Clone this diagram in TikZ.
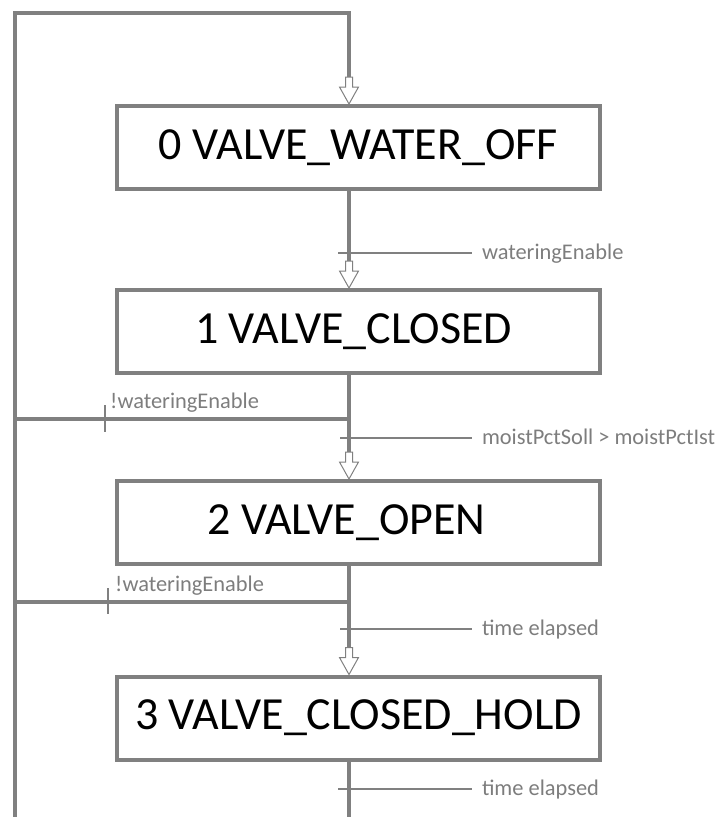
\documentclass[tikz,border=0pt]{standalone}
\usepackage{fontspec}
\setmainfont{Carlito}
\usetikzlibrary{calc}
\definecolor{linegray}{RGB}{128,128,128}
\definecolor{labelgray}{RGB}{125,125,125}
\tikzset{
  flow/.style={draw=linegray, line width=4pt},
  thinbar/.style={draw=linegray, line width=2pt},
  statebox/.style={draw=linegray, line width=4pt, fill=white, minimum width=483pt,
    minimum height=83pt, inner sep=0pt, font=\fontsize{46}{50}\selectfont, text=black},
  cond/.style={anchor=base west, inner sep=0pt, text=labelgray, font=\fontsize{22.4}{26}\selectfont},
  hollowarrow/.pic={
    \draw[linegray, line width=1pt, fill=white, line join=miter]
      (0,0) -- (9.5,-17) -- (3.5,-17) -- (3.5,-27) -- (-3.5,-27) -- (-3.5,-17) -- (-9.5,-17) -- cycle;
  }
}
\begin{document}
\begin{tikzpicture}[x=1pt, y=-1pt]
  \useasboundingbox (0,0) rectangle (720,817);

  % states
  \node[statebox] (s0) at (358.5,147.5) {0 VALVE\_WATER\_OFF};
  \node[statebox] (s1) at (358.5,331.5) {1 VALVE\_CLOSED\kern10pt};
  \node[statebox] (s2) at (358.5,522.5) {2 VALVE\_OPEN\kern24pt};
  \node[statebox] (s3) at (358.5,718)   {3 VALVE\_CLOSED\_HOLD};

  % reference points of the flow line and the return line
  \coordinate (vx) at (349,0);
  \coordinate (topleft) at (15,13);
  \coordinate (topright) at (349,13);
  \coordinate (leftend) at (15,817);
  \coordinate (mainend) at (349,817);

  % arrow tips on the state tops
  \coordinate (a0) at (s0.north -| vx);
  \coordinate (a1) at (s1.north -| vx);
  \coordinate (a2) at (s2.north -| vx);
  \coordinate (a3) at (s3.north -| vx);

  % return line on the left and loop back into state 0
  \draw[flow, line join=miter] (leftend) -- (topleft) -- (topright) -- ($(a0)+(0,-27)$);

  % flow line between the states
  \draw[flow] (s0.south -| vx) -- ($(a1)+(0,-27)$);
  \draw[flow] (s1.south -| vx) -- ($(a2)+(0,-27)$);
  \draw[flow] (s2.south -| vx) -- ($(a3)+(0,-27)$);
  \draw[flow] (s3.south -| vx) -- (mainend);

  \pic at (a0) {hollowarrow};
  \pic at (a1) {hollowarrow};
  \pic at (a2) {hollowarrow};
  \pic at (a3) {hollowarrow};

  % transitions along the flow line
  \coordinate (t01) at (338,253);
  \coordinate (t12) at (340,438);
  \coordinate (t23) at (340,629);
  \coordinate (t30) at (338,789);
  \draw[thinbar] (t01) -- ++(134,0) node[cond, xshift=9pt, yshift=-6pt] (c01) {wateringEnable};
  \draw[thinbar] (t12) -- ++(132,0) node[cond, xshift=9pt, yshift=-6pt] (c12) {moistPctSoll > moistPctIst};
  \draw[thinbar] (t23) -- ++(132,0) node[cond, xshift=9pt, yshift=-6pt] (c23) {time elapsed};
  \draw[thinbar] (t30) -- ++(134,0) node[cond, xshift=9pt, yshift=-6pt] (c30) {time elapsed};

  % returns to state 0 when watering is disabled
  \coordinate (r1) at (349,419);
  \coordinate (r2) at (349,602);
  \draw[flow] (r1) -- (r1 -| topleft);
  \draw[flow] (r2) -- (r2 -| topleft);
  \coordinate (k1) at (105,419);
  \coordinate (k2) at (108,602);
  \draw[thinbar] ($(k1)+(0,-14)$) -- ($(k1)+(0,13)$);
  \draw[thinbar] ($(k2)+(0,-14)$) -- ($(k2)+(0,12)$);
  \node[cond] (n1) at (110,408) {!wateringEnable};
  \node[cond] (n2) at (115,591) {!wateringEnable};
\end{tikzpicture}
\end{document}
